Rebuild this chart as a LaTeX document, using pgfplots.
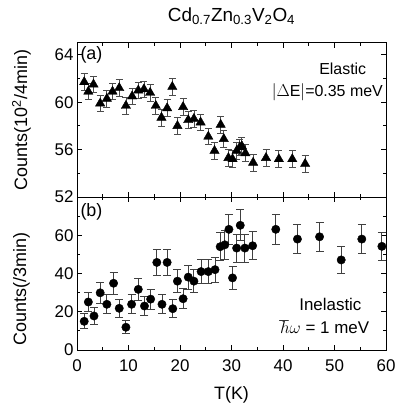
\documentclass[border=0pt]{standalone}
\usepackage{pgfplots}
\pgfplotsset{compat=1.18}
\usepackage{pgfplotstable}
\usepackage{fontspec}
\setmainfont{Liberation Sans}

\pgfplotstableread{
T v e
1.4 61.7 0.7
2.2 60.9 0.7
3.2 61.5 0.7
4.5 59.9 0.7
5.8 60.3 0.7
6.9 60.9 0.7
8.2 61.2 0.7
9.5 59.7 0.7
10.7 60.5 0.7
11.9 61.0 0.7
13.0 61.1 0.7
14.2 60.8 0.7
15.3 59.7 0.7
16.4 58.7 0.7
17.5 59.5 0.7
18.5 61.3 0.7
19.5 58.0 0.7
20.6 59.6 0.7
21.6 58.5 0.7
22.7 58.6 0.7
24.0 58.3 0.7
25.5 57.1 0.7
26.7 55.9 0.7
27.9 58.1 0.7
28.5 56.9 0.7
29.4 55.3 0.7
30.2 55.2 0.7
31.0 55.9 0.7
31.6 56.2 0.7
32.0 56.3 0.7
32.7 55.7 0.7
34.2 54.9 0.7
36.7 55.3 0.7
39.2 55.2 0.7
41.8 55.2 0.7
44.3 54.8 0.7
}\elastic

\pgfplotstableread{
T v e
1.4 15.0 3.9
2.2 25.1 5.0
3.3 17.8 4.2
4.5 29.9 5.5
5.8 23.9 4.9
7.1 34.9 5.9
8.2 21.8 4.7
9.5 11.9 3.4
10.6 23.9 4.9
11.9 31.7 5.6
13.1 23.0 4.8
14.3 26.6 5.2
15.5 45.8 6.8
16.5 23.9 4.9
17.5 45.8 6.8
18.6 21.6 4.6
19.5 36.0 6.0
20.6 26.8 5.2
21.6 38.1 6.2
22.7 36.0 6.0
24.1 41.0 6.4
25.5 41.0 6.4
26.8 42.0 6.5
27.8 54.0 7.3
28.7 55.0 7.4
29.5 63.1 7.9
30.2 37.7 6.1
31.0 53.3 7.3
31.7 65.2 8.1
32.6 53.3 7.3
34.1 54.5 7.4
38.6 63.1 7.9
42.8 58.0 7.6
47.1 59.2 7.7
51.3 47.1 6.9
55.3 58.0 7.6
59.2 54.2 7.4
}\inelastic

\begin{document}
\begin{tikzpicture}
\pgfplotsset{
  every axis/.append style={
    scale only axis,
    width=309bp,
    xmin=0, xmax=60,
    xtick={0,10,...,60},
    minor xtick={5,15,...,55},
    tick align=inside,
    major tick length=5bp,
    minor tick length=3bp,
    tick style={line width=1bp, black},
    axis line style={line width=1bp},
    ticklabel style={font=\fontsize{17}{17}\selectfont},
    xticklabel style={yshift=-6bp},
    /pgf/number format/assume math mode=true,
    label style={font=\fontsize{18}{18}\selectfont},
    clip mode=individual,
  },
}
\begin{axis}[
  name=top,
  height=154bp,
  ymin=52, ymax=65,
  ytick={52,56,60,64},
  minor ytick={54,58,62},
  xticklabels={},
  ylabel={Counts(10\textsuperscript{2}/4min)},
  ylabel style={at={(axis description cs:-0.18,0.5)}, anchor=center},
  title={Cd\textsubscript{0.7}Zn\textsubscript{0.3}V\textsubscript{2}O\textsubscript{4}},
  title style={font=\fontsize{19}{19}\selectfont, at={(axis description cs:0.5,1.135)}, anchor=center},
]
\addplot[only marks, mark=triangle*, mark size=5.4bp, black,
  error bars/.cd, y dir=both, y explicit,
  error bar style={line width=0.8bp, black!70},
  error mark options={rotate=90, mark size=3.5bp, line width=0.8bp, black!70}]
  table[x=T, y=v, y error=e] {\elastic};
\node[anchor=north west, font=\fontsize{18}{18}\selectfont] at (rel axis cs:0.0,1.0) {(a)};
\node[font=\fontsize{16}{16}\selectfont] at (rel axis cs:0.86,0.83) {Elastic};
\node[font=\fontsize{16}{16}\selectfont] at (rel axis cs:0.81,0.68) {$|\Delta$E$|$=0.35 meV};
\end{axis}
\begin{axis}[
  name=bottom,
  at={(top.south west)}, anchor=north west,
  height=153bp,
  ymin=0, ymax=80,
  ytick={0,20,40,60},
  minor ytick={10,30,50,70},
  xlabel={T(K)},
  xlabel style={at={(axis description cs:0.5,-0.29)}, anchor=center},
  ylabel={Counts(/3min)},
  ylabel style={at={(axis description cs:-0.18,0.4)}, anchor=center},
]
\addplot[only marks, mark=*, mark size=4.2bp, black,
  error bars/.cd, y dir=both, y explicit,
  error bar style={line width=0.9bp, black!75},
  error mark options={rotate=90, mark size=4bp, line width=0.9bp, black!75}]
  table[x=T, y=v, y error=e] {\inelastic};
\node[anchor=north west, font=\fontsize{18}{18}\selectfont] at (rel axis cs:0.0,0.98) {(b)};
\node[font=\fontsize{17}{17}\selectfont] at (rel axis cs:0.82,0.30) {Inelastic};
\node[font=\fontsize{17}{17}\selectfont] at (rel axis cs:0.80,0.15) {$\hbar\omega$ = 1 meV};
\end{axis}
\pgfresetboundingbox
\path[use as bounding box] ([shift={(-77bp,43bp)}]top.north west) rectangle ([shift={(11bp,-56bp)}]bottom.south east);
\end{tikzpicture}
\end{document}
